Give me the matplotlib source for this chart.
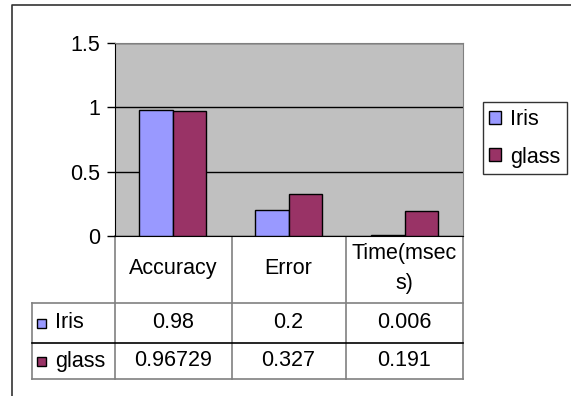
import matplotlib.pyplot as plt
import numpy as np

plt.rcParams['font.family'] = ['Liberation Sans', 'DejaVu Sans']

# data
categories = ['Accuracy', 'Error', 'Time(msec\ns)']
series = ['Iris', 'glass']
iris = [0.98, 0.2, 0.006]
glass = [0.96729, 0.327, 0.191]
yticks = [0, 0.5, 1, 1.5]

colors = ['#9999FF', '#993366']
W, H = 571, 396
fs = 15.5

fig = plt.figure(figsize=(W / 100, H / 100), dpi=100)

# overlay axes in pixel coords for the frame and table
bg = fig.add_axes([0, 0, 1, 1])
bg.set_xlim(0, W)
bg.set_ylim(H, 0)
bg.axis('off')

# outer frame
bg.plot([11.5, 11.5, W + 5], [H + 5, 4.5, 4.5], color='#333333', lw=1.2)

# plot area (pixels)
px0, px1 = 114.5, 462.5
py_top, py_0 = 42.7, 236
ax = fig.add_axes([px0 / W, 1 - py_0 / H, (px1 - px0) / W, (py_0 - py_top) / H])
ax.set_facecolor('#C0C0C0')

x = np.arange(len(categories))
bw = 0.29
ax.bar(x - bw / 2, iris, bw, color=colors[0], edgecolor='black', lw=1, zorder=3)
ax.bar(x + bw / 2, glass, bw, color=colors[1], edgecolor='black', lw=1, zorder=3)
ax.set_xlim(-0.5, len(categories) - 0.5)
ax.set_ylim(0, 1.5)
ax.set_yticks(yticks)
ax.set_yticklabels(['0', '0.5', '1', '1.5'], fontsize=fs)
ax.yaxis.grid(True, color='black', lw=1, zorder=1)
ax.set_xticks([])
ax.tick_params(axis='y', length=6, width=1, pad=4)
for side in ['top', 'right']:
    ax.spines[side].set_color('#808080')
ax.spines['left'].set_color('black')
ax.spines['bottom'].set_color('black')

# legend box on the right
leg = ax.legend(series, loc='upper left',
                bbox_to_anchor=((482.5 - px0) / (px1 - px0), (py_0 - 102.5) / (py_0 - py_top)),
                fontsize=fs, frameon=True, fancybox=False, edgecolor='black',
                handlelength=0.55, handleheight=0.55, handletextpad=0.4,
                labelspacing=0.75, borderpad=0.32, borderaxespad=0)
leg.get_frame().set_linewidth(1)
for h in leg.legend_handles:
    h.set_edgecolor('black')

# data table
col_x = [px0, 231.5, 345.5, px1]
row_y = [py_0, 303, 343, 379]
tleft = 32
grey = '#808080'
for cx in col_x:
    bg.plot([cx, cx], [py_0, row_y[-1]], color=grey, lw=1.2)
bg.plot([tleft, tleft], [row_y[1], row_y[-1]], color=grey, lw=1.2)
bg.plot([tleft, px1], [row_y[1], row_y[1]], color=grey, lw=1.2)
bg.plot([tleft, px1], [row_y[2], row_y[2]], color='black', lw=1.2)
bg.plot([tleft, px1], [row_y[3], row_y[3]], color=grey, lw=1.2)

for i, c in enumerate(categories):
    cx = (col_x[i] + col_x[i + 1]) / 2
    bg.text(cx, (row_y[0] + row_y[1]) / 2 - 1, c, ha='center', va='center',
            fontsize=fs, linespacing=1.5)

for r, (name, vals) in enumerate([(series[0], iris), (series[1], glass)]):
    cy = (row_y[r + 1] + row_y[r + 2]) / 2
    bg.add_patch(plt.Rectangle((37, cy - 4.5), 9, 9, facecolor=colors[r],
                               edgecolor='black', lw=1))
    bg.text(55, cy, name, ha='left', va='center', fontsize=fs)
    for i, v in enumerate(vals):
        cx = (col_x[i] + col_x[i + 1]) / 2
        bg.text(cx, cy, str(v), ha='center', va='center', fontsize=fs)

fig.savefig('out.png', dpi=100)
